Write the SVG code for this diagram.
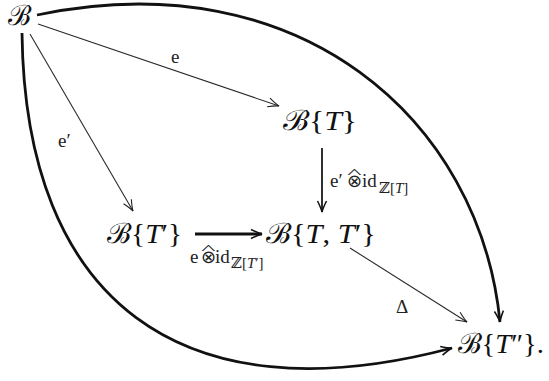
<svg xmlns="http://www.w3.org/2000/svg" width="549" height="381" viewBox="0 0 549 381">
<style>
.n{font-family:"Liberation Serif","DejaVu Serif",serif;font-size:28px;fill:#111}
.l{font-family:"Liberation Serif","DejaVu Serif",serif;font-size:19px;fill:#222}
.s{font-size:15px}
.ot{font-family:"DejaVu Sans",sans-serif;font-size:18px}
.thin{fill:none;stroke:#2a2a2a;stroke-width:1.1}
.mid{fill:none;stroke:#1a1a1a;stroke-width:1.8}
.thick{fill:none;stroke:#111;stroke-width:2.8}
</style>
<defs>
<marker id="ah" viewBox="-12 -6 14 12" refX="0" refY="0" markerWidth="14" markerHeight="12" orient="auto" markerUnits="userSpaceOnUse">
<path d="M-11,-4.5 Q-4,-1 0,0 Q-4,1 -11,4.5" fill="none" stroke="#222" stroke-width="1.1"/>
</marker>
<marker id="ahb" viewBox="-12 -6 14 12" refX="0" refY="0" markerWidth="14" markerHeight="12" orient="auto" markerUnits="userSpaceOnUse">
<path d="M-11,-4.5 Q-4,-1 0,0 Q-4,1 -11,4.5" fill="none" stroke="#111" stroke-width="1.5"/>
</marker>
</defs>
<g id="connectors">
<path class="thick" d="M37,15 C300,-40 480,120 500,322" marker-end="url(#ahb)"/>
<path class="thick" d="M22,33 C25,300 180,420 452,348" marker-end="url(#ahb)"/>
<line class="thin" x1="38" y1="24" x2="279" y2="106" marker-end="url(#ah)"/>
<line class="thin" x1="30" y1="34" x2="133" y2="211" marker-end="url(#ah)"/>
<line class="mid" x1="322" y1="148" x2="322" y2="212" marker-end="url(#ahb)"/>
<line class="thick" x1="195" y1="234" x2="262" y2="234" marker-end="url(#ahb)"/>
<line class="thin" x1="350" y1="248" x2="467" y2="322" marker-end="url(#ah)"/>
<text class="l" x="171" y="63">e</text>
<text class="l" x="58" y="147">e′</text>
<text class="l" x="396" y="313" font-size="20">Δ</text>
<g id="lab-h">
<text class="l" x="190" y="263">e<tspan class="ot" x="201">⊗</tspan><tspan x="215">id</tspan><tspan class="s" x="231" y="268">ℤ[<tspan font-style="italic">T</tspan>′]</tspan></text>
<text class="l" transform="translate(208.5,253) scale(1.6,0.7)" text-anchor="middle">^</text>
</g>
<g id="lab-v">
<text class="l" x="330" y="187">e′<tspan class="ot" x="347">⊗</tspan><tspan x="362">id</tspan><tspan class="s" x="379" y="193">ℤ[<tspan font-style="italic">T</tspan>]</tspan></text>
<text class="l" transform="translate(354.5,177) scale(1.6,0.7)" text-anchor="middle">^</text>
</g>
</g>
<g id="B"><text class="n" x="8" y="25">ℬ</text></g>
<g id="BT"><text class="n" x="283" y="130" textLength="74" lengthAdjust="spacingAndGlyphs">ℬ{<tspan font-style="italic">T</tspan>}</text></g>
<g id="BTp"><text class="n" x="107" y="243" textLength="75" lengthAdjust="spacingAndGlyphs">ℬ{<tspan font-style="italic">T</tspan>′}</text></g>
<g id="BTTp"><text class="n" x="266" y="243" textLength="110" lengthAdjust="spacingAndGlyphs">ℬ{<tspan font-style="italic">T</tspan>, <tspan font-style="italic">T</tspan>′}</text></g>
<g id="BTpp"><text class="n" x="458" y="353" textLength="86" lengthAdjust="spacingAndGlyphs">ℬ{<tspan font-style="italic">T</tspan>″}.</text></g>
<text class="l" x="-1" y="395" font-size="20">T″) is defined by</text>
</svg>
